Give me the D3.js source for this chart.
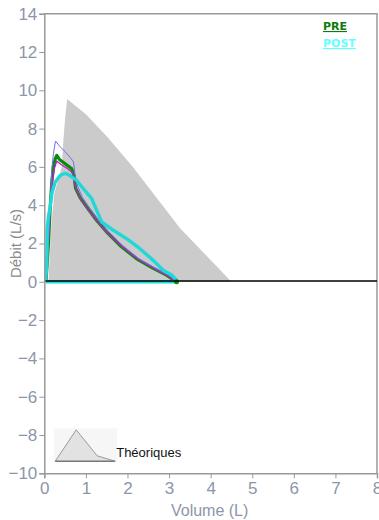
<!DOCTYPE html>
<html>
<head>
<meta charset="utf-8">
<script src="https://cdn.jsdelivr.net/npm/d3@7"></script>
<style>
  body { margin: 0; background: #fff; }
  svg { display: block; }
</style>
</head>
<body>
<script>
(function() {

    // Chart values (volume L, debit L/s)
    var predicted = [[0.1,0],[0.17,3],[0.24,4.6],[0.42,6],[0.46,7.4],[0.5,8.5],[0.55,9.55],[1.0,8.75],[1.5,7.6],[2.13,6],[3.26,2.81],[4.5,0]];
    var preTrial = [[0.04,0],[0.07,1],[0.1,2],[0.14,3.8],[0.18,5.2],[0.22,6.0],[0.26,6.4],[0.3,6.6],[0.36,6.4],[0.42,6.3],[0.54,6.1],[0.66,5.9],[0.72,5.5],[0.75,4.9],[0.86,4.4],[1.02,3.9],[1.26,3.2],[1.5,2.6],[1.82,1.9],[2.22,1.2],[2.62,0.7],[2.94,0.35],[3.18,0]];
    var preTrial2 = [[0.05,0],[0.1,2.2],[0.18,5.0],[0.24,5.9],[0.3,6.3],[0.42,6.1],[0.56,5.9],[0.68,5.7],[0.74,5.0],[0.88,4.3],[1.04,3.8],[1.28,3.15],[1.52,2.55],[1.84,1.9],[2.24,1.2],[2.64,0.7],[2.96,0.33],[3.16,0]];
    var preTrial3 = [[0.05,0],[0.12,3],[0.18,5.9],[0.22,6.7],[0.27,7.35],[0.38,7.05],[0.5,6.8],[0.62,6.5],[0.7,6.27],[0.74,5.6],[0.8,5.0],[0.92,4.4],[1.08,3.9],[1.3,3.25],[1.56,2.6],[1.88,1.9],[2.28,1.2],[2.68,0.7],[3.0,0.33],[3.2,0]];
    var postTrial = [[0.03,0],[0.06,1],[0.07,2.7],[0.1,3.4],[0.14,3.9],[0.18,4.6],[0.26,5.2],[0.38,5.55],[0.5,5.67],[0.62,5.55],[0.78,5.29],[0.94,4.86],[1.14,4.34],[1.26,3.73],[1.38,3.13],[1.66,2.69],[1.98,2.25],[2.3,1.73],[2.62,1.12],[2.86,0.6],[3.06,0.35],[3.18,0.1],[3.2,0],[0.03,0]];
    var xTicks = [0,1,2,3,4,5,6,7,8];
    var yTicks = [-10,-8,-6,-4,-2,0,2,4,6,8,10,12,14];
    var legendNames = ['PRE','POST'];
    var legendIcon = [[0,0],[21,-31.5],[42,-5.5],[60,0]];

    // Dimensions
    var W = 379, H = 520;
    var margin = {top: 13.7, right: 2, bottom: 46.7, left: 44.3};

    var x = d3.scaleLinear().domain([0, 8]).range([margin.left, W - margin.right]);
    var y = d3.scaleLinear().domain([-10, 14]).range([H - margin.bottom, margin.top]);

    var svg = d3.select('body').append('svg')
        .attr('width', W)
        .attr('height', H);

    var line = d3.line()
        .x(function(d) { return x(d[0]); })
        .y(function(d) { return y(d[1]); });

    // Predicted area
    svg.append('path')
        .datum(predicted)
        .attr('d', line)
        .attr('fill', '#cbcbcb')
        .attr('stroke', 'none');

    // Frame (top/right)
    svg.append('path')
        .attr('d', 'M' + x(0) + ',' + y(14) + 'H' + x(8) + 'V' + y(-10))
        .attr('fill', 'none')
        .attr('stroke', '#999')
        .attr('stroke-width', 1.5);

    // Curves
    svg.append('path').datum(preTrial).attr('d', line)
        .attr('fill', 'none').attr('stroke', '#0a8a0a').attr('stroke-width', 3.2)
        .attr('stroke-linejoin', 'round');
    svg.append('path').datum(preTrial2).attr('d', line)
        .attr('fill', 'none').attr('stroke', '#c020c8').attr('stroke-width', 1.3);
    svg.append('path').datum(preTrial3).attr('d', line)
        .attr('fill', 'none').attr('stroke', '#7070f0').attr('stroke-width', 1);
    svg.append('path').datum(postTrial).attr('d', line)
        .attr('fill', 'none').attr('stroke', '#1fd8d8').attr('stroke-width', 3.4)
        .attr('stroke-linejoin', 'round');
    svg.append('circle')
        .attr('cx', x(preTrial[preTrial.length - 1][0]))
        .attr('cy', y(0))
        .attr('r', 2.5)
        .attr('fill', '#0a8a0a');

    // Zero line
    svg.append('line')
        .attr('x1', x(0)).attr('x2', x(8))
        .attr('y1', y(0) - 0.8).attr('y2', y(0) - 0.8)
        .attr('stroke', '#000').attr('stroke-width', 1.6);

    // Axes
    var xAxis = svg.append('g')
        .attr('transform', 'translate(0,' + y(-10) + ')')
        .call(d3.axisBottom(x).tickValues(xTicks).tickSize(5).tickPadding(4));
    var yAxis = svg.append('g')
        .attr('transform', 'translate(' + x(0) + ',0)')
        .call(d3.axisLeft(y).tickValues(yTicks).tickSize(5).tickPadding(2));

    [xAxis, yAxis].forEach(function(a) {
        a.select('.domain').attr('stroke', '#999').attr('stroke-width', 1.5);
        a.selectAll('.tick line').attr('stroke', '#999');
        a.selectAll('.tick text')
            .attr('fill', '#8c96aa')
            .style('font-family', 'Liberation Sans, Arial, sans-serif')
            .style('font-size', '17px');
    });

    // Axis titles
    svg.append('text')
        .attr('transform', 'translate(21,' + y(2) + ') rotate(-90)')
        .attr('text-anchor', 'middle')
        .attr('fill', '#8a8a8a')
        .style('font-family', 'Liberation Sans, Arial, sans-serif')
        .style('font-size', '15px')
        .text('Débit (L/s)');

    svg.append('text')
        .attr('x', x(4) - 1)
        .attr('y', H - 4)
        .attr('text-anchor', 'middle')
        .attr('fill', '#8c96aa')
        .style('font-family', 'Liberation Sans, Arial, sans-serif')
        .style('font-size', '16px')
        .text('Volume (L)');

    // Legend PRE / POST
    var legendColors = ['#0a7a0a', '#66ffff'];
    svg.selectAll('.leg')
        .data(legendNames)
        .enter().append('text')
        .attr('x', 323)
        .attr('y', function(d, i) { return 30 + i * 17; })
        .attr('fill', function(d, i) { return legendColors[i]; })
        .style('font-family', 'DejaVu Sans, Verdana, sans-serif')
        .style('font-weight', 'bold')
        .style('font-size', '11px')
        .style('text-decoration', 'underline')
        .text(function(d) { return d; });

    // Legend "Theoriques"
    var lg = svg.append('g')
        .attr('transform', 'translate(' + (x(0.25) + 0.5) + ',' + (y(-9.4) - 0.5) + ')');
    lg.append('rect')
        .attr('x', -1).attr('y', -33).attr('width', 63).attr('height', 33)
        .attr('fill', '#f6f6f6');
    lg.append('path')
        .datum(legendIcon)
        .attr('d', d3.line())
        .attr('fill', '#e2e2e2')
        .attr('stroke', '#9a9a9a')
        .attr('stroke-width', 1);
    lg.append('line')
        .attr('x1', 0).attr('x2', 60).attr('y1', 0).attr('y2', 0)
        .attr('stroke', '#777').attr('stroke-width', 1.5);
    lg.append('text')
        .attr('x', 61)
        .attr('y', -4)
        .attr('fill', '#111')
        .style('font-family', 'Liberation Sans, Arial, sans-serif')
        .style('font-size', '13px')
        .text('Théoriques');

})();
</script>
</body>
</html>
